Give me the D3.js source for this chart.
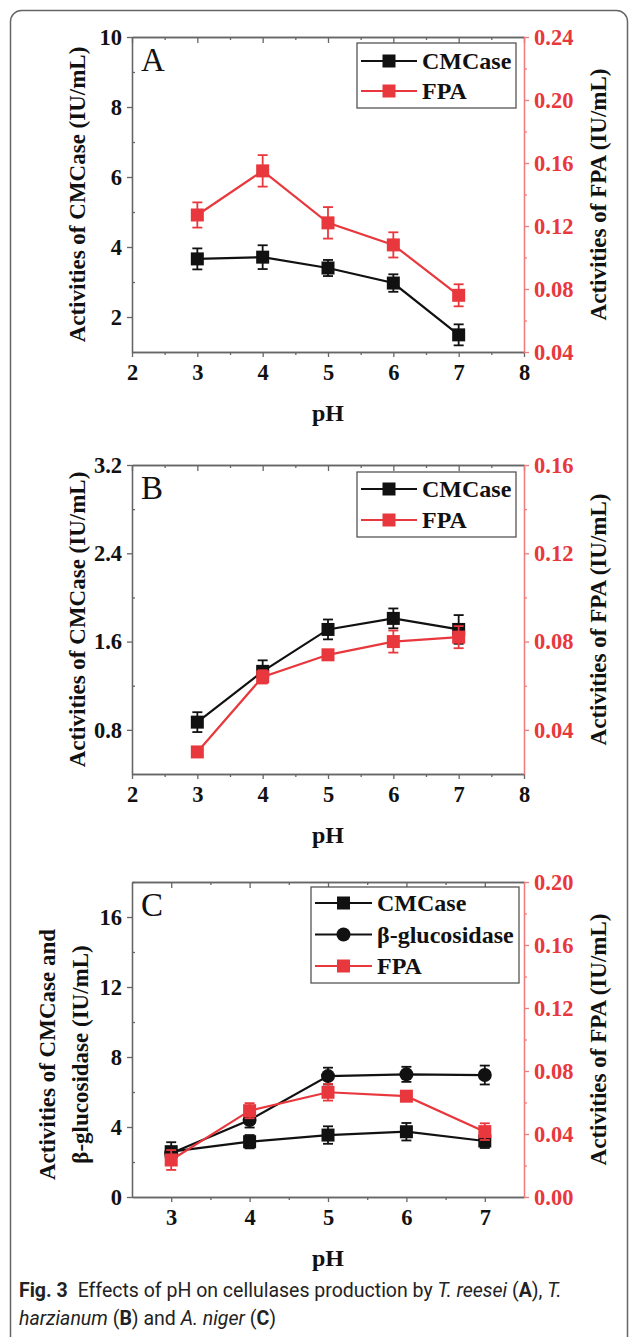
<!DOCTYPE html>
<html>
<head>
<meta charset="utf-8">
<script src="https://cdn.jsdelivr.net/npm/d3@7"></script>
<style>
  body { margin: 0; background: #fff; }
  svg { display: block; }
</style>
</head>
<body>
<div id="chart"></div>
<script>
// pH levels tested
const phLevels = [3, 4, 5, 6, 7];

// panel A - T. reesei
const aCmcase = [3.66, 3.71, 3.40, 2.97, 1.49];
const aCmcaseErr = [0.30, 0.34, 0.23, 0.25, 0.30];
const aFpa = [0.127, 0.155, 0.122, 0.108, 0.076];
const aFpaErr = [0.008, 0.010, 0.010, 0.008, 0.007];

// panel B - T. harzianum
const bCmcase = [0.87, 1.33, 1.71, 1.81, 1.71];
const bCmcaseErr = [0.09, 0.10, 0.09, 0.09, 0.13];
const bFpa = [0.030, 0.064, 0.074, 0.080, 0.082];
const bFpaErr = [0.002, 0.003, 0.002, 0.005, 0.005];

// panel C - A. niger
const cCmcase = [2.59, 3.16, 3.54, 3.73, 3.20];
const cCmcaseErr = [0.54, 0.38, 0.50, 0.50, 0.40];
const cGluc = [2.50, 4.40, 6.91, 7.01, 6.97];
const cGlucErr = [0.30, 0.43, 0.48, 0.43, 0.54];
const cFpa = [0.0235, 0.0548, 0.0665, 0.064, 0.0415];
const cFpaErr = [0.0063, 0.0048, 0.0053, 0.002, 0.0053];

// tick labels
const xTicksAB = [2, 3, 4, 5, 6, 7, 8];
const xTicksC = [3, 4, 5, 6, 7];
const aLeftTicks = [2, 4, 6, 8, 10];
const aRightTicks = [0.04, 0.08, 0.12, 0.16, 0.20, 0.24];
const bLeftTicks = [0.8, 1.6, 2.4, 3.2];
const bRightTicks = [0.04, 0.08, 0.12, 0.16];
const cLeftTicks = [0, 4, 8, 12, 16];
const cRightTicks = [0, 0.04, 0.08, 0.12, 0.16, 0.20];

const w = 630, h = 1337;
const red = "#e8383d", redAxis = "#f07c7e", ink = "#111", axisGrey = "#666";
const serif = "'Liberation Serif', 'Times New Roman', serif";

const svg = d3.select("#chart")
    .append("svg")
    .attr("width", w)
    .attr("height", h);

// rounded frame of the figure
svg.append("rect")
    .attr("x", 10.5).attr("y", 10.5)
    .attr("width", 617).attr("height", 1400)
    .attr("rx", 11)
    .attr("fill", "none")
    .attr("stroke", "#666")
    .attr("stroke-width", 1.5);

const halfSteps = (ticks, step) => {
    let out = [];
    for (let i = 0; i < ticks.length - 1; i++) out.push(+(ticks[i] + step / 2).toFixed(4));
    return out;
};

function styleAxis(g, color, lineColor) {
    g.attr("font-family", serif)
     .attr("font-size", 22.5)
     .attr("font-weight", "bold");
    g.select(".domain").attr("stroke", lineColor).attr("stroke-width", 1.3);
    g.selectAll(".tick line").attr("stroke", lineColor).attr("stroke-width", 1.3);
    g.selectAll(".tick text").attr("fill", color);
}

function drawPanel(p) {
    const left = 132, right = 524;
    let xScale = d3.scaleLinear().domain(p.xDomain).range([left, right]);
    let yLeft = d3.scaleLinear().domain(p.yLDomain).range([p.bottom, p.top]);
    let yRight = d3.scaleLinear().domain(p.yRDomain).range([p.bottom, p.top]);

    let g = svg.append("g");

    //minor x values between the labelled ones
    let xMinor = p.xMinor;

    //top axis, ticks pointing inwards
    let top = g.append("g").attr("transform", `translate(0, ${p.top})`)
        .call(d3.axisTop(xScale).tickValues(p.xTicks).tickSizeInner(-6).tickSizeOuter(0).tickFormat(""));
    styleAxis(top, ink, axisGrey);
    let topMinor = g.append("g").attr("transform", `translate(0, ${p.top})`)
        .call(d3.axisTop(xScale).tickValues(xMinor).tickSizeInner(-3).tickSizeOuter(0).tickFormat(""));
    styleAxis(topMinor, ink, axisGrey);

    //bottom axis
    let bottom = g.append("g").attr("transform", `translate(0, ${p.bottom})`)
        .call(d3.axisBottom(xScale).tickValues(p.xTicks).tickSizeInner(5).tickSizeOuter(0).tickPadding(7).tickFormat(d3.format("d")));
    styleAxis(bottom, ink, axisGrey);
    let bottomMinor = g.append("g").attr("transform", `translate(0, ${p.bottom})`)
        .call(d3.axisBottom(xScale).tickValues(xMinor).tickSizeInner(3).tickSizeOuter(0).tickFormat(""));
    styleAxis(bottomMinor, ink, axisGrey);

    //left axis
    let leftAx = g.append("g").attr("transform", `translate(${left}, 0)`)
        .call(d3.axisLeft(yLeft).tickValues(p.yLTicks).tickSizeInner(5).tickSizeOuter(0).tickPadding(5).tickFormat(p.yLFormat));
    styleAxis(leftAx, ink, axisGrey);
    let leftMinor = g.append("g").attr("transform", `translate(${left}, 0)`)
        .call(d3.axisLeft(yLeft).tickValues(p.yLMinor).tickSizeInner(-3).tickSizeOuter(0).tickFormat(""));
    styleAxis(leftMinor, ink, axisGrey);

    //right axis in red
    let rightAx = g.append("g").attr("transform", `translate(${right}, 0)`)
        .call(d3.axisRight(yRight).tickValues(p.yRTicks).tickSizeInner(5).tickSizeOuter(0).tickPadding(5).tickFormat(d3.format(".2f")));
    styleAxis(rightAx, red, redAxis);
    let rightMinor = g.append("g").attr("transform", `translate(${right}, 0)`)
        .call(d3.axisRight(yRight).tickValues(p.yRMinor).tickSizeInner(3).tickSizeOuter(0).tickFormat(""));
    styleAxis(rightMinor, red, redAxis);

    //series: line, error bars, markers
    p.series.forEach(s => {
        let yS = s.axis === "R" ? yRight : yLeft;
        let pts = phLevels.map((ph, i) => ({ x: ph, y: s.values[i], e: s.errors[i] }));
        let sg = g.append("g");

        sg.append("path")
            .datum(pts)
            .attr("fill", "none")
            .attr("stroke", s.color)
            .attr("stroke-width", 2.2)
            .attr("d", d3.line().x(d => xScale(d.x)).y(d => yS(d.y)));

        let bars = sg.selectAll(".err").data(pts).enter().append("g")
            .attr("stroke", s.color).attr("stroke-width", 1.8);
        bars.append("line")
            .attr("x1", d => xScale(d.x)).attr("x2", d => xScale(d.x))
            .attr("y1", d => yS(d.y - d.e)).attr("y2", d => yS(d.y + d.e));
        bars.append("line")
            .attr("x1", d => xScale(d.x) - 5).attr("x2", d => xScale(d.x) + 5)
            .attr("y1", d => yS(d.y + d.e)).attr("y2", d => yS(d.y + d.e));
        bars.append("line")
            .attr("x1", d => xScale(d.x) - 5).attr("x2", d => xScale(d.x) + 5)
            .attr("y1", d => yS(d.y - d.e)).attr("y2", d => yS(d.y - d.e));

        if (s.shape === "circle") {
            sg.selectAll("circle").data(pts).enter().append("circle")
                .attr("cx", d => xScale(d.x)).attr("cy", d => yS(d.y))
                .attr("r", 7).attr("fill", s.color);
        } else {
            sg.selectAll("rect").data(pts).enter().append("rect")
                .attr("x", d => xScale(d.x) - 6.5).attr("y", d => yS(d.y) - 6.5)
                .attr("width", 13).attr("height", 13).attr("fill", s.color);
        }
    });

    //legend
    let lg = p.legend;
    g.append("rect")
        .attr("x", lg.x).attr("y", lg.y)
        .attr("width", lg.w).attr("height", lg.h)
        .attr("fill", "#fff").attr("stroke", "#555").attr("stroke-width", 1.3);
    p.series.forEach((s, i) => {
        let ly = lg.y + lg.first + i * lg.step;
        let lx0 = lg.x + 4, lx1 = lg.x + 4 + lg.sample;
        g.append("line").attr("x1", lx0).attr("x2", lx1).attr("y1", ly).attr("y2", ly)
            .attr("stroke", s.color).attr("stroke-width", 2.2);
        if (s.shape === "circle") {
            g.append("circle").attr("cx", (lx0 + lx1) / 2).attr("cy", ly).attr("r", 7).attr("fill", s.color);
        } else {
            g.append("rect").attr("x", (lx0 + lx1) / 2 - 6.5).attr("y", ly - 6.5)
                .attr("width", 13).attr("height", 13).attr("fill", s.color);
        }
        g.append("text")
            .attr("x", lx1 + 5).attr("y", ly).attr("dy", "0.35em")
            .attr("font-family", serif).attr("font-size", 24).attr("font-weight", "bold")
            .attr("fill", ink)
            .text(s.name);
    });

    //panel letter
    g.append("text")
        .attr("x", 141).attr("y", p.top + 34)
        .attr("font-family", serif).attr("font-size", 33)
        .attr("fill", ink)
        .text(p.letter);

    //axis titles
    let midY = (p.top + p.bottom) / 2;
    p.leftTitle.forEach((line, i) => {
        g.append("text")
            .attr("transform", `translate(${p.leftTitleX[i]}, ${midY + p.leftTitleShift}) rotate(-90)`)
            .attr("text-anchor", "middle").attr("dy", "0.35em")
            .attr("font-family", serif).attr("font-size", 23).attr("font-weight", "bold")
            .attr("fill", ink)
            .text(line);
    });
    g.append("text")
        .attr("transform", `translate(598, ${midY}) rotate(-90)`)
        .attr("text-anchor", "middle").attr("dy", "0.35em")
        .attr("font-family", serif).attr("font-size", 23).attr("font-weight", "bold")
        .attr("fill", ink)
        .text("Activities of FPA (IU/mL)");
    g.append("text")
        .attr("x", (left + right) / 2).attr("y", p.bottom + 69)
        .attr("text-anchor", "middle")
        .attr("font-family", serif).attr("font-size", 24).attr("font-weight", "bold")
        .attr("fill", ink)
        .text("pH");
}

drawPanel({
    letter: "A", top: 37, bottom: 352,
    xDomain: [2, 8], xTicks: xTicksAB, xMinor: halfSteps(xTicksAB, 1),
    yLDomain: [1, 10], yLTicks: aLeftTicks, yLMinor: [3, 5, 7, 9], yLFormat: d3.format("d"),
    yRDomain: [0.04, 0.24], yRTicks: aRightTicks, yRMinor: halfSteps(aRightTicks, 0.04),
    leftTitle: ["Activities of CMCase (IU/mL)"], leftTitleX: [77], leftTitleShift: 0,
    legend: { x: 357, y: 43, w: 159, h: 65, first: 18, step: 30, sample: 56 },
    series: [
        { name: "CMCase", values: aCmcase, errors: aCmcaseErr, axis: "L", color: ink, shape: "square" },
        { name: "FPA", values: aFpa, errors: aFpaErr, axis: "R", color: red, shape: "square" }
    ]
});

drawPanel({
    letter: "B", top: 465, bottom: 774,
    xDomain: [2, 8], xTicks: xTicksAB, xMinor: halfSteps(xTicksAB, 1),
    yLDomain: [0.4, 3.2], yLTicks: bLeftTicks, yLMinor: [1.2, 2.0, 2.8], yLFormat: d3.format(".1f"),
    yRDomain: [0.02, 0.16], yRTicks: bRightTicks, yRMinor: [0.06, 0.10, 0.14],
    leftTitle: ["Activities of CMCase (IU/mL)"], leftTitleX: [77], leftTitleShift: 0,
    legend: { x: 357, y: 472, w: 159, h: 65, first: 17, step: 31, sample: 56 },
    series: [
        { name: "CMCase", values: bCmcase, errors: bCmcaseErr, axis: "L", color: ink, shape: "square" },
        { name: "FPA", values: bFpa, errors: bFpaErr, axis: "R", color: red, shape: "square" }
    ]
});

drawPanel({
    letter: "C", top: 882, bottom: 1197,
    xDomain: [2.5, 7.5], xTicks: xTicksC, xMinor: [3.5, 4.5, 5.5, 6.5],
    yLDomain: [0, 18], yLTicks: cLeftTicks, yLMinor: [2, 6, 10, 14, 18], yLFormat: d3.format("d"),
    yRDomain: [0, 0.20], yRTicks: cRightTicks, yRMinor: halfSteps(cRightTicks, 0.04),
    leftTitle: ["Activities of CMCase and", "β-glucosidase (IU/mL)"], leftTitleX: [47, 80], leftTitleShift: 15,
    legend: { x: 311, y: 887, w: 208, h: 96, first: 16, step: 31.5, sample: 57 },
    series: [
        { name: "CMCase", values: cCmcase, errors: cCmcaseErr, axis: "L", color: ink, shape: "square" },
        { name: "β-glucosidase", values: cGluc, errors: cGlucErr, axis: "L", color: ink, shape: "circle" },
        { name: "FPA", values: cFpa, errors: cFpaErr, axis: "R", color: red, shape: "square" }
    ]
});

//caption
let cap = svg.append("g")
    .attr("font-family", "Roboto, 'Noto Sans', sans-serif")
    .attr("font-size", 19.5)
    .attr("fill", "#222");
let c1 = cap.append("text").attr("x", 19).attr("y", 1297);
c1.append("tspan").attr("font-weight", "bold").text("Fig. 3");
c1.append("tspan").text("\u2002Effects of pH on cellulases production by ");
c1.append("tspan").attr("font-style", "italic").text("T. reesei");
c1.append("tspan").text(" (");
c1.append("tspan").attr("font-weight", "bold").text("A");
c1.append("tspan").text("), ");
c1.append("tspan").attr("font-style", "italic").text("T.");
let c2 = cap.append("text").attr("x", 19).attr("y", 1325);
c2.append("tspan").attr("font-style", "italic").text("harzianum");
c2.append("tspan").text(" (");
c2.append("tspan").attr("font-weight", "bold").text("B");
c2.append("tspan").text(") and ");
c2.append("tspan").attr("font-style", "italic").text("A. niger");
c2.append("tspan").text(" (");
c2.append("tspan").attr("font-weight", "bold").text("C");
c2.append("tspan").text(")");
</script>
</body>
</html>
